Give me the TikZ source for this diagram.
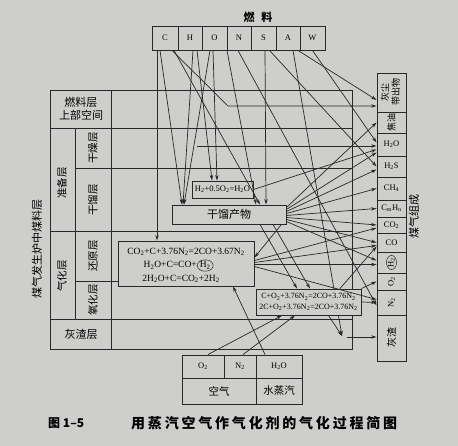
\documentclass[tikz,border=0pt]{standalone}
\usepackage{fontspec}
\usepackage{graphicx}
\setmainfont{Liberation Serif}
\newfontfamily\cjk{Noto Sans CJK SC}
\newfontfamily\cjkcap{Noto Sans CJK SC}[LetterSpace=20]
\usetikzlibrary{arrows.meta,shapes.geometric}
\newcommand{\sbs}[1]{\textsubscript{#1}}
\definecolor{bg}{RGB}{206,206,204}
\definecolor{ink}{RGB}{40,40,40}
\begin{document}
\begin{tikzpicture}[x=1pt,y=-1pt,
  grid/.style={draw=ink,line width=0.9pt},
  arr/.style={draw=ink,line width=0.7pt,-{Stealth[length=5.5pt,width=3.4pt]}},
  bx/.style={draw=ink,line width=0.9pt,fill=bg,inner sep=0pt},
  fuel/.style={bx,minimum height=24pt,font=\fontsize{8.5}{9}\selectfont},
  gas/.style={bx,minimum width=29pt,font=\fontsize{8.5}{10}\selectfont},
  zh/.style={inner sep=0pt,font=\cjk\fontsize{10.5}{12.5}\selectfont},
  lbl/.style={inner sep=0pt},
  rfont/.style={inner sep=0pt,font=\fontsize{9.5}{10}\selectfont}]
\fill[bg] (0,0) rectangle (458,446);
\useasboundingbox (0,0) rectangle (458,446);

% title and fuel row
\node[lbl,font=\cjk\bfseries\fontsize{11}{12}\selectfont] (title) at (258,17) {燃\hspace{7pt}料};
\node[fuel,minimum width=26pt] (fC) at (165,38) {C};
\node[fuel,minimum width=24pt] (fH) at (190,38) {H};
\node[fuel,minimum width=25pt] (fO) at (214.5,38) {O};
\node[fuel,minimum width=24pt] (fN) at (239,38) {N};
\node[fuel,minimum width=25pt] (fS) at (263.5,38) {S};
\node[fuel,minimum width=24pt] (fA) at (288,38) {A};
\node[fuel,minimum width=25pt] (fW) at (312.5,38) {W};

% grid of layers
\draw[grid] (50,90) rectangle (352,349);
\draw[grid] (50,128) -- (352,128);
\draw[grid] (75,168) -- (352,168);
\draw[grid] (50,231) -- (352,231);
\draw[grid] (75,281) -- (118,281);
\draw[grid] (50,319) -- (352,319);
\draw[grid] (75,128) -- (75,319);
\draw[grid] (111,90) -- (111,349);

% left labels
\node[zh,align=center,font=\cjk\fontsize{11}{13}\selectfont] (top) at (81,109) {燃料层\\上部空间};
\node[zh,rotate=90] (zb) at (62,183) {准备层};
\node[zh,rotate=90] (gz) at (93,148) {干燥层};
\node[zh,rotate=90] (glc) at (93,200) {干馏层};
\node[zh,rotate=90] (qh) at (62,276) {气化层};
\node[zh,rotate=90] (hy) at (93,256) {还原层};
\node[zh,rotate=90] (yh) at (93,300) {氧化层};
\node[zh,font=\cjk\fontsize{11}{13}\selectfont] (hz) at (81,334) {灰渣层};
\node[zh,rotate=90,font=\cjk\fontsize{11}{13}\selectfont] (mq) at (37,249) {煤气发生炉中煤料层};

% right column
\node[gas,minimum height=39pt] (dust) at (391.5,92.5) {\rotatebox{90}{\cjk\fontsize{9}{10.5}\selectfont\begin{tabular}{@{}c@{}}灰尘\\带出物\end{tabular}}};
\node[gas,minimum height=21pt] (tar) at (391.5,122.5) {\rotatebox{90}{\cjk\fontsize{9}{10}\selectfont 焦油}};
\node[gas,minimum height=23pt] (h2o) at (391.5,144.5) {H\sbs{2}O};
\node[gas,minimum height=21pt] (h2s) at (391.5,166.5) {H\sbs{2}S};
\node[gas,minimum height=23pt] (ch4) at (391.5,188.5) {CH\sbs{4}};
\node[gas,minimum height=17pt] (cmhn) at (391.5,208.5) {C\sbs{m}H\sbs{n}};
\node[gas,minimum height=16pt] (co2) at (391.5,225) {CO\sbs{2}};
\node[gas,minimum height=19pt] (co) at (391.5,242.5) {CO};
\node[gas,minimum height=21pt] (h2) at (391.5,262.5) {};
\node[ellipse,draw=ink,line width=0.5pt,inner sep=0.2pt,rotate=90,font=\fontsize{8.5}{10}\selectfont] (h2c) at (h2) {H\sbs{2}};
\node[gas,minimum height=17pt] (o2) at (391.5,281.5) {\rotatebox{90}{O\sbs{2}}};
\node[gas,minimum height=25pt] (n2) at (391.5,302.5) {\rotatebox{90}{N\sbs{2}}};
\node[gas,minimum height=46pt] (slag) at (391.5,338) {\rotatebox{90}{\cjk\fontsize{10}{11}\selectfont 灰渣}};
\node[zh,rotate=90,font=\cjk\fontsize{11}{13}\selectfont] (mqzc) at (414,217) {煤气组成};

% arrow that passes behind the C+O2 box
\coordinate (ash) at (342,336);
\draw[arr] ([xshift=5pt]fA.south) -- (ash);

% inner boxes
\node[bx,minimum width=61pt,minimum height=17pt,font=\fontsize{8.5}{9}\selectfont] (hb) at (222.5,189.5) {H\sbs{2}+0.5O\sbs{2}=H\sbs{2}O};
\node[bx,minimum width=114pt,minimum height=19pt,font=\cjk\fontsize{11}{12}\selectfont] (gl) at (229,214.5) {干馏产物};
\node[bx,minimum width=136pt,minimum height=45pt] (rx) at (186,263.5) {};
\node[rfont] (r1) at (186,252) {CO\sbs{2}+C+3.76N\sbs{2}=2CO+3.67N\sbs{2}};
\node[rfont,anchor=east] (r2a) at (197,265.5) {H\sbs{2}O+C=CO+};
\node[ellipse,draw=ink,line width=0.5pt,inner sep=0.3pt,anchor=west,font=\fontsize{9.5}{10}\selectfont] (r2b) at (r2a.east) {H\sbs{2}};
\node[rfont] (r3) at (181,279) {2H\sbs{2}O+C=CO\sbs{2}+2H\sbs{2}};
\node[bx,minimum width=105pt,minimum height=26pt,align=center,font=\fontsize{8}{10.5}\selectfont] (cb) at (308.5,302) {C+O\sbs{2}+3.76N\sbs{2}=2CO+3.76N\sbs{2}\\2C+O\sbs{2}+3.76N\sbs{2}=2CO+3.76N\sbs{2}};

% air / steam table
\node[bx,minimum width=42pt,minimum height=23pt,font=\fontsize{8.5}{10}\selectfont] (ao2) at (203,366.5) {O\sbs{2}};
\node[bx,minimum width=32pt,minimum height=23pt,font=\fontsize{8.5}{10}\selectfont] (an2) at (240,366.5) {N\sbs{2}};
\node[bx,minimum width=46pt,minimum height=23pt,font=\fontsize{8.5}{10}\selectfont] (ah2o) at (279,366.5) {H\sbs{2}O};
\node[bx,minimum width=74pt,minimum height=26pt,font=\cjk\fontsize{10.5}{12}\selectfont] (air) at (219,391) {空气};
\node[bx,minimum width=46pt,minimum height=26pt,font=\cjk\fontsize{10.5}{12}\selectfont] (steam) at (279,391) {水蒸汽};

% caption
\node[lbl,anchor=west,font=\cjk\bfseries\fontsize{12}{14}\selectfont] (fig) at (48,423) {图 1–5};
\node[lbl,anchor=west,font=\cjkcap\bfseries\fontsize{14}{16}\selectfont] (cap) at (131,423) {用蒸汽空气作气化剂的气化过程简图};

% arrows from the fuel
\draw[arr] ([xshift=-8pt]fC.south) -- ([xshift=-29pt]rx.north);
\draw[arr] ([xshift=-5pt]fC.south) -- ([xshift=-47pt]gl.north);
\coordinate (k1) at (228,106);
\draw[arr] ([xshift=7pt]fC.south) -- (k1) -- ([yshift=-13.5pt]dust.west);
\draw[arr] ([xshift=9pt]fC.south) -- ([xshift=31pt]gl.north);
\draw[arr] ([xshift=3pt]fH.south) -- ([xshift=-46pt]gl.north);
\draw[arr] ([xshift=7pt]fH.south) -- ([xshift=-10.5pt]hb.north);
\draw[arr] ([xshift=-1.5pt]fO.south) -- ([xshift=-5.5pt]hb.north);
\draw[arr] ([xshift=-4.5pt]fO.south) -- ([xshift=-45pt]gl.north);
\draw[arr] ([xshift=-12pt]fN.south) -- ([xshift=27pt]gl.north);
\draw[arr] ([xshift=-1pt]fN.south) -- ([yshift=-3pt]n2.west);
\draw[arr] ([xshift=1.5pt]fS.south) -- ([xshift=37pt]gl.north);
\draw[arr] ([xshift=6pt]fS.south) -- (h2s.west);
\draw[arr] ([xshift=10pt]fA.south) -- ([yshift=-7.5pt]dust.west);
\draw[arr] (fW.south) -- ([yshift=2pt]h2o.west);
\coordinate (dry) at (197,146);
\draw[arr] (dry) -- ([yshift=-1.5pt]h2o.west);
\draw[arr] (hb.east) -- ([yshift=-5pt]h2o.west);

% products of the distillation
\draw[arr] ([yshift=7pt]gl.east) -- (tar.west);
\draw[arr] ([yshift=5pt]gl.east) -- ([yshift=-8pt]h2o.west);
\draw[arr] ([yshift=3pt]gl.east) -- ([yshift=-3pt]h2s.west);
\draw[arr] ([yshift=1pt]gl.east) -- (ch4.west);
\draw[arr] ([yshift=-1pt]gl.east) -- (cmhn.west);
\draw[arr] ([yshift=-3pt]gl.east) -- (co2.west);
\draw[arr] ([yshift=-5pt]gl.east) -- (co.west);
\draw[arr] ([yshift=-7pt]gl.east) -- ([yshift=2pt]h2.west);

% reduction zone
\draw[arr] ([xshift=-5pt]gl.south east) -- ([yshift=6pt]rx.east);
\draw[arr] ([yshift=3pt]rx.east) -- ([yshift=-3pt]co2.west);
\draw[arr] ([yshift=1pt]rx.east) -- ([yshift=-3pt]co.west);
\draw[arr] ([yshift=-1pt]rx.east) -- ([yshift=-2pt]h2.west);
\draw[arr] ([yshift=-3pt]rx.east) -- ([yshift=3pt]n2.west);

% oxidation zone
\draw[arr] ([xshift=31pt]gl.south) -- ([xshift=-11.5pt]cb.north);
\draw[arr] ([xshift=44pt]gl.south) -- ([xshift=1.5pt]cb.north);
\draw[arr] ([xshift=31.5pt]cb.north) -- ([yshift=-4pt]co.west);
\draw[arr] (cb.north east) -- (o2.west);
\draw[arr] (cb.east) -- (n2.west);
\draw[arr] ([xshift=20pt]cb.south) -- (ash);
\coordinate (ash2) at (347,337);
\draw[arr] (ash2) -- ([yshift=1pt]slag.west);

% gasifying agents
\draw[arr] ([xshift=5pt]ao2.north) -- ([xshift=-26.5pt]cb.south);
\draw[arr] ([xshift=3pt]an2.north) -- ([xshift=-13.5pt]cb.south);
\draw[arr] ([xshift=-14pt]ah2o.north) -- ([xshift=47pt]rx.south);
\end{tikzpicture}
\end{document}
